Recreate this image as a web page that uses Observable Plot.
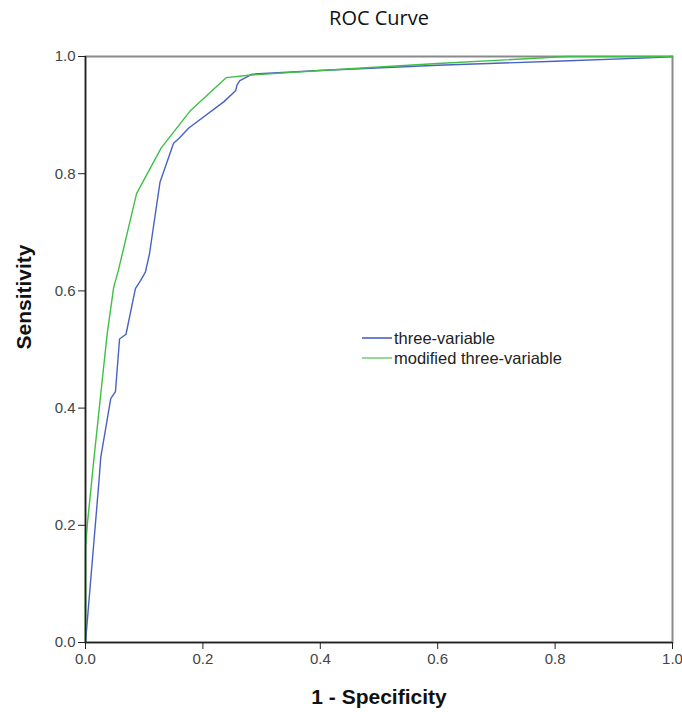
<!DOCTYPE html>
<html><head><meta charset="utf-8">
<script src="https://cdn.jsdelivr.net/npm/d3@7"></script>
<script src="https://cdn.jsdelivr.net/npm/@observablehq/plot@0.6"></script>
<style>body{margin:0;background:#fff}#chart{width:682px;height:712px}</style>
</head><body><div id="chart"></div>
<script>
const seriesNames = ["three-variable", "modified three-variable"];
const threeVarFPR = [0, 0.023, 0.026, 0.043, 0.051, 0.058, 0.069, 0.085, 0.094, 0.102, 0.109, 0.127, 0.150, 0.159, 0.176, 0.236, 0.256, 0.258, 0.263, 0.284, 0.40, 0.60, 0.80, 0.97, 1.0];
const threeVarTPR = [0, 0.276, 0.316, 0.416, 0.428, 0.518, 0.526, 0.604, 0.618, 0.632, 0.663, 0.786, 0.852, 0.860, 0.878, 0.923, 0.942, 0.951, 0.959, 0.970, 0.976, 0.985, 0.992, 0.998, 1.0];
const modFPR = [0, 0, 0.003, 0.014, 0.026, 0.037, 0.048, 0.056, 0.087, 0.129, 0.179, 0.240, 0.278, 0.40, 0.60, 0.82, 1.0];
const modTPR = [0, 0.16, 0.20, 0.31, 0.424, 0.527, 0.606, 0.635, 0.766, 0.844, 0.908, 0.964, 0.968, 0.976, 0.988, 1.0, 1.0];
const tickValues = [0, 0.2, 0.4, 0.6, 0.8, 1.0];
const titleText = "ROC Curve";
const xLabel = "1 - Specificity";
const yLabel = "Sensitivity";
const colors = ["#4862c2", "#3fbf45"];

const rows = [
  ...threeVarFPR.map((x, i) => ({series: seriesNames[0], fpr: x, tpr: threeVarTPR[i]})),
  ...modFPR.map((x, i) => ({series: seriesNames[1], fpr: x, tpr: modTPR[i]}))
];
const fmt = d3.format(".1f");
const sans = "'Liberation Sans', Arial, sans-serif";

const plot = Plot.plot({
  width: 682, height: 712,
  marginTop: 56, marginBottom: 70, marginLeft: 85, marginRight: 10,
  style: {fontFamily: sans, background: "#fff", color: "#444"},
  x: {domain: [0, 1]},
  y: {domain: [0, 1]},
  color: {domain: seriesNames, range: colors},
  marks: [
    Plot.frame({stroke: "#8a8a8a", strokeWidth: 2}),
    Plot.line(rows, {x: "fpr", y: "tpr", z: "series", stroke: "series", strokeWidth: 1.4}),
    Plot.ruleX([0], {stroke: "#222", strokeWidth: 1.5}),
    Plot.ruleY([0], {stroke: "#222", strokeWidth: 1.5}),
    Plot.axisX({ticks: tickValues, tickFormat: fmt, tickSize: 7, tickPadding: 4, label: null, fontSize: 15, stroke: "#222"}),
    Plot.axisY({ticks: tickValues, tickFormat: fmt, tickSize: 7, tickPadding: 3, label: null, fontSize: 15, stroke: "#222"}),
    Plot.text([titleText], {frameAnchor: "top", lineAnchor: "middle", dy: -38, fontSize: 20, fontFamily: "'Open Sans', sans-serif", fill: "#111"}),
    Plot.text([xLabel], {frameAnchor: "bottom", lineAnchor: "middle", dy: 55, fontSize: 21, fontWeight: "bold", fill: "#111"}),
    Plot.text([yLabel], {frameAnchor: "left", lineAnchor: "middle", rotate: -90, dx: -61, fontSize: 21, fontWeight: "bold", fill: "#111"})
  ]
});
document.getElementById("chart").appendChild(plot);

// legend inside plot area
const svg = d3.select(plot);
const lg = svg.append("g").attr("font-family", sans).attr("font-size", 16.5).attr("fill", "#222").attr("text-anchor", "start");
seriesNames.forEach((name, i) => {
  const y = 338 + i * 20;
  lg.append("line").attr("x1", 362).attr("x2", 392).attr("y1", y).attr("y2", y)
    .attr("stroke", colors[i]).attr("stroke-width", 1.6).attr("opacity", i ? 0.7 : 1);
  lg.append("text").attr("x", 394).attr("y", y).attr("dy", "0.35em").attr("text-anchor", "start").text(name);
});
</script>
</body></html>
